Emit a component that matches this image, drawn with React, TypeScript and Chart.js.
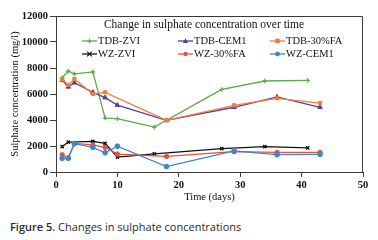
import React, { useEffect, useRef } from "react";
import { Chart, registerables } from "chart.js";

Chart.register(...registerables);

const seriesNames = ["TDB-ZVI", "TDB-CEM1", "TDB-30%FA", "WZ-ZVI", "WZ-30%FA", "WZ-CEM1"];

const daysZVI = [1, 2, 3, 6, 8, 10, 16, 27, 34, 41];
const daysWZZVI = [1, 2, 6, 8, 10, 16, 27, 34, 41];
const daysMain = [1, 2, 3, 6, 8, 10, 18, 29, 36, 43];
const daysFA = [1, 2, 3, 6, 8, 18, 29, 36, 43];

const tdbZvi = [7250, 7750, 7550, 7700, 4150, 4100, 3450, 6350, 7000, 7050];
const tdbCem1 = [7080, 6550, 6870, 6130, 5720, 5150, 3970, 4980, 5770, 4980];
const tdb30FA = [7130, 6700, 7150, 6000, 6130, 3980, 5130, 5670, 5300];
const wzZvi = [1950, 2300, 2350, 2200, 1150, 1400, 1800, 1950, 1850];
const wz30FA = [1330, 1100, 2200, 2080, 1900, 1380, 1200, 1560, 1510, 1510];
const wzCem1 = [1050, 1050, 2180, 1900, 1480, 1980, 420, 1620, 1330, 1360];

const xTicks = [0, 10, 20, 30, 40, 50];
const yTicks = [0, 2000, 4000, 6000, 8000, 10000, 12000];

const colors = ["#5DA84A", "#5A3D9E", "#F07E3A", "#111111", "#E4533E", "#3F87C9"];
const styles: any[] = ["cross", "triangle", "rect", "crossRot", "circle", "circle"];
const radii = [2.3, 2.6, 2.3, 2.3, 2.2, 2.4];

const zip = (xs: number[], ys: number[]) => xs.map((x, i) => ({ x, y: ys[i] }));

const SERIF = '"Liberation Serif", "Times New Roman", serif';

function drawPoint(ctx: any, style: string, r: number, x: number, y: number, c: string) {
  ctx.save();
  ctx.fillStyle = c;
  ctx.strokeStyle = c;
  ctx.lineWidth = 1.2;
  ctx.beginPath();
  if (style === "circle") {
    ctx.arc(x, y, r, 0, Math.PI * 2);
    ctx.fill();
  } else if (style === "rect") {
    ctx.fillRect(x - r, y - r, 2 * r, 2 * r);
  } else if (style === "triangle") {
    ctx.moveTo(x, y - r * 1.1);
    ctx.lineTo(x + r, y + r * 0.8);
    ctx.lineTo(x - r, y + r * 0.8);
    ctx.closePath();
    ctx.fill();
  } else if (style === "cross") {
    ctx.moveTo(x, y - r);
    ctx.lineTo(x, y + r);
    ctx.moveTo(x - r, y);
    ctx.lineTo(x + r, y);
    ctx.stroke();
  } else if (style === "crossRot") {
    ctx.moveTo(x - r, y - r);
    ctx.lineTo(x + r, y + r);
    ctx.moveTo(x - r, y + r);
    ctx.lineTo(x + r, y - r);
    ctx.stroke();
  }
  ctx.restore();
}

export default function App() {
  const ref = useRef<HTMLCanvasElement>(null);
  useEffect(() => {
    if (!ref.current) return;
    const dataSets = [
      zip(daysZVI, tdbZvi),
      zip(daysMain, tdbCem1),
      zip(daysFA, tdb30FA),
      zip(daysWZZVI, wzZvi),
      zip(daysMain, wz30FA),
      zip(daysMain, wzCem1),
    ];
    const framePlugin = {
      id: "frameAndLegend",
      afterDraw(chart: any) {
        const { ctx, chartArea: a } = chart;
        ctx.save();
        ctx.strokeStyle = "#3a3a3a";
        ctx.lineWidth = 1;
        ctx.beginPath();
        ctx.moveTo(a.left, a.top + 0.5);
        ctx.lineTo(a.right - 0.5, a.top + 0.5);
        ctx.lineTo(a.right - 0.5, a.bottom);
        ctx.stroke();
        ctx.fillStyle = "#111";
        ctx.font = `11.5px ${SERIF}`;
        ctx.textAlign = "center";
        ctx.textBaseline = "middle";
        ctx.fillText("Change in sulphate concentration over time", 204, 25);
        const colX = [82, 178, 270];
        const rowY = [41, 54];
        ctx.font = `10.5px ${SERIF}`;
        ctx.textAlign = "left";
        seriesNames.forEach((name, i) => {
          const cx = colX[i % 3];
          const cy = rowY[Math.floor(i / 3)];
          ctx.strokeStyle = colors[i];
          ctx.lineWidth = 1.3;
          ctx.beginPath();
          ctx.moveTo(cx, cy);
          ctx.lineTo(cx + 15, cy);
          ctx.stroke();
          drawPoint(ctx, styles[i], radii[i], cx + 7.5, cy, colors[i]);
          ctx.fillStyle = "#111";
          ctx.fillText(name, cx + 16, cy + 0.5);
        });
        ctx.restore();
      },
    };
    const chart = new Chart(ref.current, {
      type: "line",
      data: {
        datasets: dataSets.map((d, i) => ({
          label: seriesNames[i],
          data: d,
          borderColor: colors[i],
          backgroundColor: colors[i],
          borderWidth: 1.3,
          pointStyle: styles[i],
          pointRadius: radii[i],
          pointBorderWidth: styles[i] === "cross" || styles[i] === "crossRot" ? 1.3 : 1,
          pointBorderColor: colors[i],
          pointBackgroundColor: colors[i],
          tension: 0,
          fill: false,
          order: 6 - i,
        })),
      },
      options: {
        animation: false,
        responsive: false,
        maintainAspectRatio: false,
        layout: { padding: { top: 16, right: 15, left: 0, bottom: 0 } },
        plugins: {
          legend: { display: false },
          tooltip: { enabled: false },
          title: { display: false },
        },
        scales: {
          x: {
            type: "linear",
            min: 0,
            max: 50,
            afterBuildTicks: (s: any) => {
              s.ticks = xTicks.map((v) => ({ value: v }));
            },
            afterFit: (s: any) => {
              s.height = 40;
            },
            grid: {
              display: true,
              drawOnChartArea: false,
              drawTicks: true,
              tickLength: 5,
              color: "#3a3a3a",
            },
            border: { display: true, color: "#3a3a3a", width: 1 },
            ticks: {
              color: "#111",
              padding: 2,
              callback: (v: any) => String(v),
              font: { family: SERIF, size: 10.5, weight: "bold" },
            },
            title: {
              display: true,
              text: "Time (days)",
              color: "#111",
              font: { family: SERIF, size: 10.5 },
              padding: { top: 0, bottom: 8 },
            },
          },
          y: {
            type: "linear",
            min: 0,
            max: 12000,
            afterBuildTicks: (s: any) => {
              s.ticks = yTicks.map((v) => ({ value: v }));
            },
            afterFit: (s: any) => {
              s.width = 56;
            },
            grid: {
              display: true,
              drawOnChartArea: false,
              drawTicks: true,
              tickLength: 6,
              color: "#3a3a3a",
            },
            border: { display: true, color: "#3a3a3a", width: 1 },
            ticks: {
              color: "#111",
              padding: 2,
              callback: (v: any) => String(v),
              font: { family: SERIF, size: 10.5, weight: "bold" },
            },
            title: {
              display: true,
              text: "Sulphate concentration (mg/l)",
              color: "#111",
              font: { family: SERIF, size: 10.5 },
              padding: { top: 9, bottom: 0 },
            },
          },
        },
      } as any,
      plugins: [framePlugin],
    });
    return () => chart.destroy();
  }, []);

  return (
    <div style={{ position: "fixed", left: 0, top: 0, width: 378, height: 240, background: "#fff" }}>
      <canvas ref={ref} width={378} height={212} style={{ position: "absolute", left: 0, top: 0, width: 378, height: 212 }} />
      <div
        style={{
          position: "absolute",
          left: 10,
          top: 219,
          fontFamily: '"Open Sans", "Noto Sans", sans-serif',
          fontSize: 11,
          color: "#2a2a2a",
          whiteSpace: "nowrap",
          lineHeight: "15px",
        }}
      >
        <b style={{ fontWeight: 600 }}>Figure 5.</b> Changes in sulphate concentrations
      </div>
    </div>
  );
}
